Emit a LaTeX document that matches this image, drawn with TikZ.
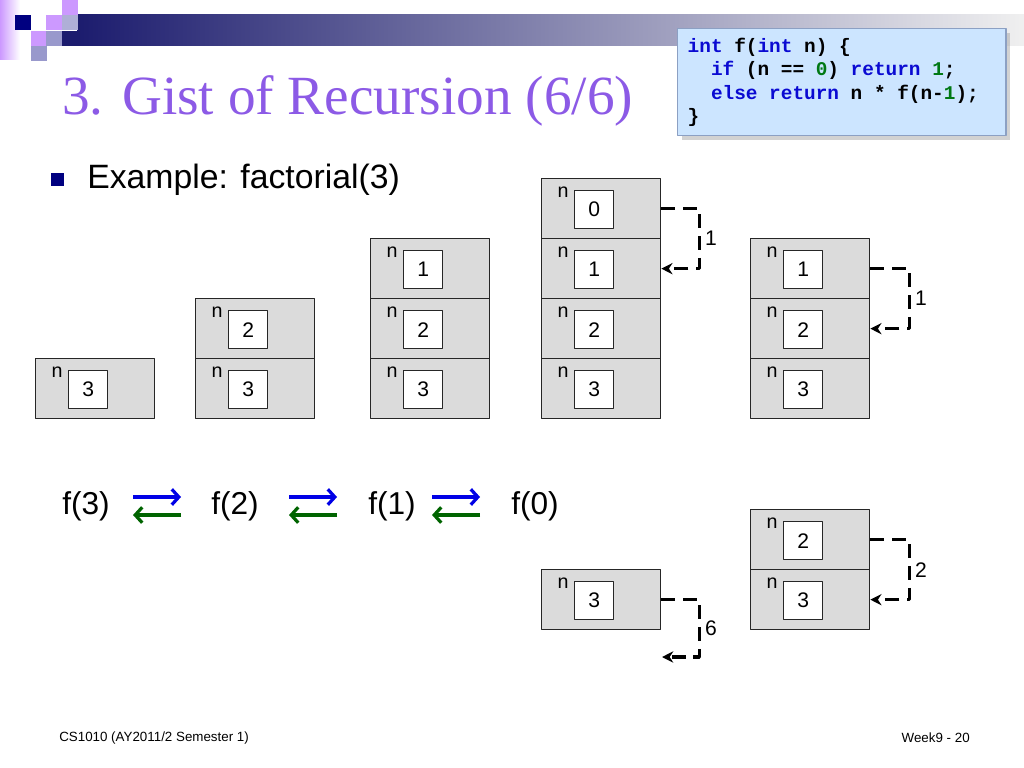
\documentclass[tikz,border=0pt]{standalone}
\usepackage{fontspec}
\setmainfont{Liberation Serif}
\setmonofont{Liberation Mono}
\newfontfamily\arial{Liberation Sans}
\usetikzlibrary{arrows.meta,shadows,positioning}
\definecolor{titlepurple}{RGB}{140,90,230}
\definecolor{barnavy}{RGB}{28,28,110}
\definecolor{sqnavy}{RGB}{0,0,128}
\definecolor{sqlav}{RGB}{204,153,255}
\definecolor{sqgray}{RGB}{153,153,204}
\definecolor{sqlight}{RGB}{175,175,215}
\definecolor{codefill}{RGB}{204,229,255}
\definecolor{codeline}{RGB}{140,160,195}
\definecolor{kw}{RGB}{10,10,210}
\definecolor{num}{RGB}{0,120,20}
\definecolor{callblue}{RGB}{0,0,230}
\definecolor{retgreen}{RGB}{0,100,0}
\newcommand\cspace{\hspace*{0.6em}}
\tikzset{
  cellbox/.style={draw=black!85,line width=0.9pt,fill=gray!28,minimum width=2.975cm,minimum height=1.5cm,inner sep=0pt,anchor=north west},
  valbox/.style={draw=black!85,line width=0.8pt,fill=white,minimum width=0.975cm,minimum height=0.95cm,inner sep=0pt,font=\arial\fontsize{15}{18}\selectfont},
  nlab/.style={inner sep=0pt,font=\arial\fontsize{14}{16}\selectfont},
  ret/.style={line width=2.3pt,dash pattern=on 10pt off 5.5pt,-{Stealth[length=8pt,width=8pt]}},
  retlab/.style={right,inner sep=3pt,font=\arial\fontsize{15}{18}\selectfont},
  call/.style={callblue,line width=2.3pt,-{Straight Barb[length=5pt,width=11pt]}},
  back/.style={retgreen,line width=2.3pt,-{Straight Barb[length=5pt,width=11pt]}},
  fcall/.style={anchor=base west,inner sep=0pt,font=\arial\fontsize{22.5}{26}\selectfont}
}
\begin{document}
\begin{tikzpicture}[x=0.025cm,y=-0.025cm,line join=round]
  \fill[white] (0,0) rectangle (1024,768);
  \useasboundingbox (0,0) rectangle (1024,768);
  % slide decoration
  \shade[left color=sqlav,right color=white] (0,0) rectangle (20,60);
  \shade[left color=barnavy,right color=gray!12] (77,15) rectangle (1024,46);
  \fill[barnavy] (62,31) rectangle (77,46);
  \foreach \x/\y/\c in {15/15/sqnavy,31/31/sqlav,31/46/sqgray,46/15/sqlav,46/31/sqgray,62/0/sqlav,62/15/sqlight}
    \fill[\c] (\x,\y) rectangle +(15.5,15.5);
  \node[anchor=base west,inner sep=0pt,text=titlepurple,font=\fontsize{39.3}{44}\selectfont] (title) at (62,115) {3. Gist of Recursion (6/6)};
  \node[fill=sqnavy,minimum size=0.325cm,inner sep=0pt] (bul) at (57.5,179.5) {};
  \node[anchor=base west,inner sep=0pt,font=\arial\fontsize{24}{28}\selectfont] (ex) at (87,188) {Example: factorial(3)};
  % code
  \node[draw=codeline,line width=1pt,fill=codefill,drop shadow={shadow xshift=3pt,shadow yshift=-3pt,fill=black!35},
        anchor=north west,minimum height=2.675cm,inner xsep=0.25cm,text width=7.7cm,align=left,
        font=\ttfamily\bfseries\fontsize{13.8}{16.7}\selectfont] (code) at (677,28)
    {\textcolor{kw}{int}\cspace f(\textcolor{kw}{int}\cspace n)\cspace\{\\
     \cspace\cspace\textcolor{kw}{if}\cspace(n\cspace==\cspace\textcolor{num}{0})\cspace\textcolor{kw}{return}\cspace\textcolor{num}{1};\\
     \cspace\cspace\textcolor{kw}{else\cspace return}\cspace n\cspace*\cspace f(n-\textcolor{num}{1});\\
     \}};
  % stack frames
  \foreach \nm/\x/\y/\v in {a3/35/358/3, b2/195/298/2, b3/195/358/3,
      c1/370/238/1, c2/370/298/2, c3/370/358/3,
      d0/541/178/0, d1/541/238/1, d2/541/298/2, d3/541/358/3,
      e1/750/238/1, e2/750/298/2, e3/750/358/3,
      g3/541/569/3, h2/750/509/2, h3/750/569/3}
  {
    \node[cellbox] (\nm) at (\x,\y) {};
    \node[valbox] (v\nm) at ([shift={(-7,1)}]\nm.center) {\v};
    \node[nlab] (n\nm) at ([shift={(22,14)}]\nm.north west) {n};
  }
  % returned values
  \coordinate (ret6) at (662,657);
  \draw[ret] (d0.east) -- ++(38,0) |- node[pos=0.25,retlab]{1} (d1.east);
  \draw[ret] (e1.east) -- ++(39,0) |- node[pos=0.25,retlab]{1} (e2.east);
  \draw[ret] (h2.east) -- ++(39,0) |- node[pos=0.25,retlab]{2} (h3.east);
  \draw[ret] (g3.east) -- ++(38,0) |- node[pos=0.25,retlab]{6} (ret6);
  % calls
  \node[fcall] (f3) at (62,514) {f(3)};
  \node[fcall] (f2) at (211,514) {f(2)};
  \node[fcall] (f1) at (368,514) {f(1)};
  \node[fcall] (f0) at (511,514) {f(0)};
  \foreach \a/\dx in {f3/23,f2/30,f1/16}
  {
    \draw[call] ([shift={(\dx,-17)}]\a.base east) -- ++(48,0);
    \draw[back] ([shift={(\dx+48,1)}]\a.base east) -- ++(-48,0);
  }
  % footer
  \node[anchor=west,inner sep=0pt,font=\arial\fontsize{9.5}{11}\selectfont] (foot) at (59,738) {CS1010 (AY2011/2 Semester 1)};
  \node[anchor=east,inner sep=0pt,font=\arial\fontsize{9.5}{11}\selectfont] (page) at (970,738) {Week9 - 20};
\end{tikzpicture}
\end{document}
